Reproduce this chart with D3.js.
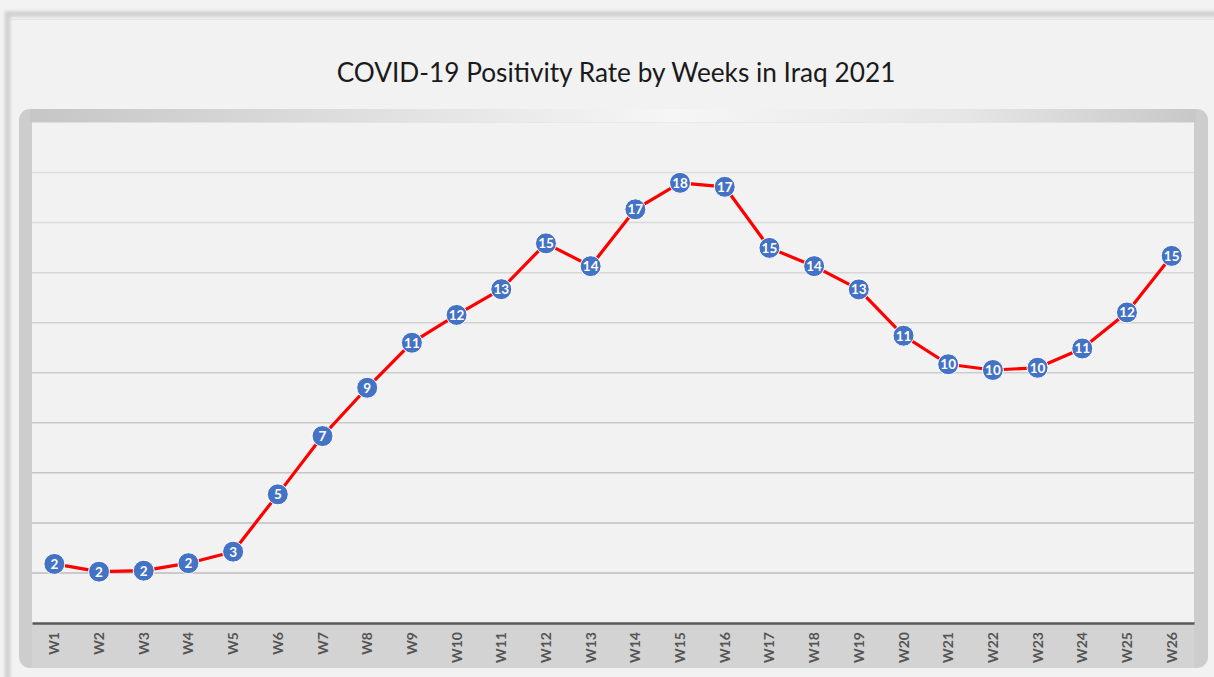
<!DOCTYPE html>
<html>
<head>
<meta charset="utf-8">
<script src="https://cdn.jsdelivr.net/npm/d3@7"></script>
<style>
  html, body { margin: 0; padding: 0; background: #f3f3f3; }
  svg { display: block; }
</style>
</head>
<body>
<div id="chart"></div>
<script>
var width = 1214, height = 677;

// data (labels show rounded values)
var weeks = ["W1","W2","W3","W4","W5","W6","W7","W8","W9","W10","W11","W12","W13",
             "W14","W15","W16","W17","W18","W19","W20","W21","W22","W23","W24","W25","W26"];
var positivity = [2.36, 2.05, 2.09, 2.39, 2.85, 5.14, 7.47, 9.40, 11.20, 12.31, 13.34, 15.17, 14.26,
                  16.53, 17.59, 17.43, 14.99, 14.26, 13.33, 11.48, 10.34, 10.11, 10.20, 10.97, 12.41, 14.67];
var yTicks = [0, 2, 4, 6, 8, 10, 12, 14, 16, 18, 20];
var title = "COVID-19 Positivity Rate by Weeks in Iraq 2021";

var plot = {left: 32, right: 1194, top: 122.5, bottom: 623};

var svg = d3.select("#chart").append("svg")
    .attr("width", width).attr("height", height);

var defs = svg.append("defs");
var topGrad = defs.append("linearGradient").attr("id", "topGrad")
    .attr("x1", "0%").attr("x2", "100%").attr("y1", "0%").attr("y2", "0%");
topGrad.append("stop").attr("offset", "0%").attr("stop-color", "#c6c6c6");
topGrad.append("stop").attr("offset", "55%").attr("stop-color", "#f6f6f6");
topGrad.append("stop").attr("offset", "80%").attr("stop-color", "#e6e6e6");
topGrad.append("stop").attr("offset", "100%").attr("stop-color", "#c8c8c8");

var blur = defs.append("filter").attr("id", "soft")
    .attr("x", "-5%").attr("y", "-5%").attr("width", "110%").attr("height", "110%");
blur.append("feGaussianBlur").attr("stdDeviation", 1.5);

// outer card
svg.append("rect").attr("x", 0).attr("y", 0).attr("width", width).attr("height", height)
    .attr("fill", "#f3f3f3");
svg.append("rect")
    .attr("x", 7.5).attr("y", 14).attr("width", 1300).attr("height", 800)
    .attr("fill", "#f2f2f2").attr("stroke", "#d2d2d2").attr("stroke-width", 6)
    .attr("filter", "url(#soft)");
svg.append("rect")
    .attr("x", 11).attr("y", 19.5).attr("width", 1300).attr("height", 800)
    .attr("fill", "#f2f2f2").attr("stroke", "#e2e2e2").attr("stroke-width", 1);

// title, fitted to the reference width
var t = svg.append("text")
    .attr("x", 616).attr("y", 82)
    .attr("text-anchor", "middle")
    .style("font-family", "Lato, 'Open Sans', sans-serif")
    .style("font-size", "25px")
    .attr("fill", "#1a1a1a")
    .text(title);
var tw = t.node().getComputedTextLength();
t.style("font-size", (25 * 559 / tw).toFixed(2) + "px");

// inner frame
svg.append("rect")
    .attr("x", 19).attr("y", 109).attr("width", 1189).attr("height", 559)
    .attr("rx", 11).attr("ry", 11)
    .attr("fill", "#cdcdcd");
svg.append("rect")
    .attr("x", 30).attr("y", 109).attr("width", 1166).attr("height", 13.5)
    .attr("fill", "url(#topGrad)");
svg.append("rect")
    .attr("x", 32).attr("y", 624).attr("width", 1162).attr("height", 44)
    .attr("fill", "#d3d3d3");
svg.append("rect")
    .attr("x", plot.left).attr("y", plot.top)
    .attr("width", plot.right - plot.left).attr("height", plot.bottom - plot.top)
    .attr("fill", "#f2f2f2");

var x = d3.scaleBand().domain(weeks).range([plot.left, plot.right]);
var y = d3.scaleLinear().domain([0, 20]).range([plot.bottom, plot.top]);
var gridColor = d3.scaleLinear().domain([2, 20]).range(["#bdbdbd", "#e2e2e2"]);

// gridlines
svg.append("g").selectAll("line")
    .data(yTicks.filter(function(d) { return d > 0 && d < 20; }))
    .enter().append("line")
    .attr("x1", plot.left).attr("x2", plot.right)
    .attr("y1", function(d) { return y(d); })
    .attr("y2", function(d) { return y(d); })
    .attr("stroke", function(d) { return gridColor(d); })
    .attr("stroke-width", 1.5);

// x axis
var xAxis = svg.append("g")
    .attr("transform", "translate(0," + plot.bottom + ")")
    .call(d3.axisBottom(x).tickSize(0).tickPadding(0));
xAxis.select(".domain").attr("stroke", "#595959").attr("stroke-width", 2.5);
xAxis.selectAll("text")
    .attr("transform", "rotate(-90)")
    .attr("x", -9).attr("y", 0).attr("dy", "0.36em")
    .attr("text-anchor", "end")
    .style("font-family", "Lato, 'Open Sans', sans-serif")
    .style("font-size", "14px")
    .style("font-weight", "bold")
    .attr("fill", "#555555");

// line
var cx = function(d, i) { return x(weeks[i]) + x.bandwidth() / 2; };
var line = d3.line()
    .x(function(d, i) { return cx(d, i); })
    .y(function(d) { return y(d); });

svg.append("path")
    .datum(positivity)
    .attr("d", line)
    .attr("fill", "none")
    .attr("stroke", "#ff0000")
    .attr("stroke-width", 3.2)
    .attr("stroke-linejoin", "round");

// markers with labels
var pts = svg.append("g").selectAll("g")
    .data(positivity)
    .enter().append("g")
    .attr("transform", function(d, i) { return "translate(" + cx(d, i) + "," + y(d) + ")"; });

pts.append("circle")
    .attr("r", 10.5)
    .attr("fill", "#4472c4")
    .attr("stroke", "#ffffff")
    .attr("stroke-width", 1);

pts.append("text")
    .attr("text-anchor", "middle")
    .attr("dy", "0.37em")
    .style("font-family", "Lato, 'Open Sans', sans-serif")
    .style("font-size", "13.5px")
    .style("font-weight", "bold")
    .attr("fill", "#ffffff")
    .text(function(d) { return d3.format(".0f")(d); });
</script>
</body>
</html>
